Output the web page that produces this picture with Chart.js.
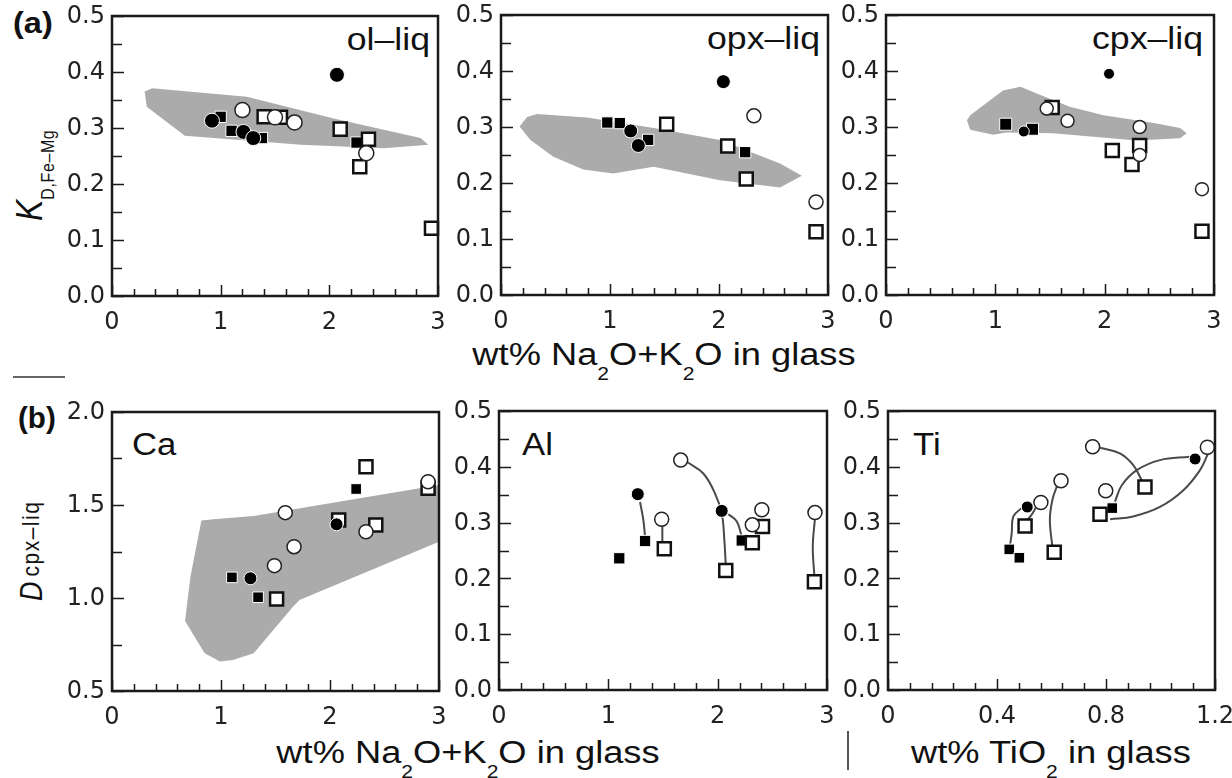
<!DOCTYPE html>
<html>
<head>
<meta charset="utf-8">
<script src="https://cdn.jsdelivr.net/npm/chart.js@4.4.1/dist/chart.umd.min.js"></script>
<style>
  html, body { margin: 0; padding: 0; background: #fff; }
  #page { position: relative; width: 1232px; height: 778px; overflow: hidden;
          font-family: "Liberation Sans", Arial, sans-serif; color: #111; }
  #page canvas { position: absolute; }
  .t { position: absolute; white-space: nowrap; line-height: 1; }
  .sub { font-size: 18px; position: relative; top: 15px; }
  .rot { transform-origin: 0 0; transform: rotate(-90deg) scaleY(1.17); }
</style>
</head>
<body>
<div id="page">
  <!-- panel letters -->
  <div class="t" style="left:13px;top:9px;font-size:29px;font-weight:bold;transform:scaleX(1.12);transform-origin:left">(a)</div>
  <div class="t" style="left:18px;top:404px;font-size:29px;font-weight:bold;transform:scaleX(1.02);transform-origin:left">(b)</div>
  <div style="position:absolute;left:13px;top:376px;width:52px;height:2px;background:#666"></div>
  <div style="position:absolute;left:847px;top:731px;width:2px;height:39px;background:#555"></div>

  <!-- y axis titles -->
  <div class="t rot" style="left:10px;top:221px;font-size:32px"><i>K</i><span style="font-size:16px;position:relative;top:11px;letter-spacing:0.6px">D,Fe–Mg</span></div>
  <div class="t rot" style="left:16px;top:601px;font-size:27px"><i>D</i><span style="font-size:21px;position:relative;top:-2px;margin-left:5px;letter-spacing:1.5px">cpx–liq</span></div>

  <!-- x axis titles -->
  <div class="t" style="left:364px;width:600px;top:339px;font-size:31px;text-align:center;transform:scaleX(1.17)">wt% Na<span class="sub">2</span>O+K<span class="sub">2</span>O in glass</div>
  <div class="t" style="left:168px;width:600px;top:737px;font-size:31px;text-align:center;transform:scaleX(1.17)">wt% Na<span class="sub">2</span>O+K<span class="sub">2</span>O in glass</div>
  <div class="t" style="left:751px;width:600px;top:737px;font-size:31px;text-align:center;transform:scaleX(1.17)">wt% TiO<span class="sub">2</span> in glass</div>

  <!-- panel names -->
  <div class="t" style="left:130px;width:300px;top:24px;font-size:31px;text-align:right;transform:scaleX(1.15);transform-origin:right">ol–liq</div>
  <div class="t" style="left:520px;width:300px;top:23px;font-size:31px;text-align:right;transform:scaleX(1.15);transform-origin:right">opx–liq</div>
  <div class="t" style="left:903px;width:300px;top:23px;font-size:31px;text-align:right;transform:scaleX(1.15);transform-origin:right">cpx–liq</div>
  <div class="t" style="left:132px;top:429px;font-size:31px;transform:scaleX(1.12);transform-origin:left">Ca</div>
  <div class="t" style="left:522px;top:429px;font-size:31px;transform:scaleX(1.12);transform-origin:left">Al</div>
  <div class="t" style="left:913px;top:429px;font-size:31px;transform:scaleX(1.12);transform-origin:left">Ti</div>
</div>

<script>
// ---- (a) ol–liq ----
const olFilledCircle = [[0.92, 0.313], [1.21, 0.293], [1.30, 0.282], [2.07, 0.395]];
const olOpenCircle   = [[1.20, 0.332], [1.50, 0.319], [1.68, 0.310], [2.34, 0.255]];
const olFilledSquare = [[1.00, 0.320], [1.10, 0.295], [1.38, 0.282], [2.25, 0.274]];
const olOpenSquare   = [[1.40, 0.320], [1.55, 0.319], [2.10, 0.298], [2.36, 0.280], [2.28, 0.231], [2.94, 0.121]];
const olField = [[0.30, 0.365], [0.37, 0.371], [1.24, 0.356], [2.04, 0.317], [2.84, 0.282], [2.91, 0.270],
                 [2.50, 0.264], [1.74, 0.270], [0.67, 0.286], [0.32, 0.338]];

// ---- (a) opx–liq ----
const opxFilledCircle = [[1.19, 0.293], [1.26, 0.267], [2.04, 0.381]];
const opxOpenCircle   = [[2.32, 0.320], [2.89, 0.166]];
const opxFilledSquare = [[0.975, 0.308], [1.09, 0.307], [1.35, 0.277], [2.24, 0.255]];
const opxOpenSquare   = [[1.52, 0.305], [2.08, 0.266], [2.25, 0.207], [2.89, 0.113]];
const opxField = [[0.17, 0.301], [0.24, 0.318], [0.33, 0.323], [0.79, 0.317], [1.40, 0.298], [2.01, 0.277],
                  [2.56, 0.235], [2.76, 0.213], [2.56, 0.192], [2.01, 0.205], [1.40, 0.229], [1.03, 0.217],
                  [0.755, 0.224], [0.48, 0.247], [0.27, 0.277]];

// ---- (a) cpx–liq ----
const cpxFilledCircle = [[1.26, 0.292], [2.04, 0.395]];
const cpxOpenCircle   = [[1.47, 0.333], [1.66, 0.311], [2.32, 0.300], [2.32, 0.250], [2.89, 0.189]];
const cpxFilledSquare = [[1.095, 0.305], [1.34, 0.296]];
const cpxOpenSquare   = [[1.52, 0.335], [2.07, 0.258], [2.32, 0.267], [2.25, 0.233], [2.89, 0.114]];
const cpxField = [[0.74, 0.312], [0.77, 0.321], [1.07, 0.365], [1.23, 0.372], [1.38, 0.360], [1.68, 0.336],
                  [1.99, 0.321], [2.45, 0.307], [2.69, 0.298], [2.75, 0.289], [2.69, 0.280], [2.29, 0.276],
                  [1.53, 0.289], [1.10, 0.290], [0.98, 0.286], [0.77, 0.295]];

// ---- (b) Ca ----
const caFilledCircle = [[1.27, 1.106], [2.06, 1.396]];
const caOpenCircle   = [[1.49, 1.174], [1.67, 1.276], [1.59, 1.459], [2.33, 1.356], [2.90, 1.625]];
const caFilledSquare = [[1.10, 1.111], [1.34, 1.004], [2.24, 1.586]];
const caOpenSquare   = [[1.51, 0.995], [2.08, 1.419], [2.33, 1.706], [2.42, 1.392], [2.90, 1.590]];
const caField = [[0.82, 1.416], [0.93, 1.423], [1.30, 1.441], [3.00, 1.607], [3.00, 1.303], [1.72, 0.989],
                 [1.66, 0.953], [1.30, 0.703], [1.11, 0.667], [0.99, 0.658], [0.85, 0.703], [0.67, 0.876],
                 [0.72, 1.116]];

// ---- (b) Al ----
const alFilledCircle = [[1.269, 0.351], [2.037, 0.321]];
const alOpenCircle   = [[1.488, 0.306], [1.662, 0.412], [2.317, 0.296], [2.404, 0.323], [2.89, 0.318]];
const alFilledSquare = [[1.10, 0.236], [1.336, 0.267], [2.22, 0.268]];
const alOpenSquare   = [[1.512, 0.253], [2.074, 0.214], [2.317, 0.264], [2.41, 0.293], [2.885, 0.194]];
const alTies = [
  [[1.29, 0.337], [1.32, 0.305], [1.336, 0.275]],
  [[1.494, 0.300], [1.494, 0.262]],
  [[1.717, 0.409], [1.869, 0.388], [1.976, 0.352], [2.037, 0.317], [2.061, 0.269], [2.074, 0.224]],
  [[2.098, 0.315], [2.175, 0.302], [2.22, 0.275]],
  [[2.89, 0.308], [2.87, 0.257], [2.885, 0.203]]
];

// ---- (b) Ti ----
const tiFilledCircle = [[0.511, 0.328], [1.127, 0.414]];
const tiOpenCircle   = [[0.561, 0.336], [0.635, 0.375], [0.751, 0.436], [0.799, 0.357], [1.172, 0.435]];
const tiFilledSquare = [[0.445, 0.252], [0.482, 0.237], [0.823, 0.326]];
const tiOpenSquare   = [[0.503, 0.294], [0.61, 0.247], [0.778, 0.315], [0.943, 0.364]];
const tiTies = [
  [[0.49, 0.326], [0.46, 0.311], [0.454, 0.281], [0.448, 0.260]],
  [[0.543, 0.327], [0.524, 0.312], [0.506, 0.302]],
  [[0.621, 0.367], [0.603, 0.340], [0.594, 0.305], [0.603, 0.257]],
  [[0.778, 0.434], [0.851, 0.424], [0.90, 0.403], [0.931, 0.376]],
  [[0.833, 0.3375], [0.858, 0.367], [0.913, 0.394], [0.998, 0.412], [1.108, 0.418]],
  [[1.175, 0.424], [1.145, 0.394], [1.084, 0.358], [0.998, 0.328], [0.90, 0.311], [0.815, 0.306]]
];

// axis ticks: [min, max, minor step, labelled step]
const naTicks  = [0, 3, 0.2, 1];
const tiTicks  = [0, 1.2, 0.08, 0.4];
const kdTicks  = [0, 0.5, 0.05, 0.1];
const caTicks  = [0.5, 2.0, 0.25, 0.5];

// plot-area boxes on the page
const BOX = {
  ol:  { left: 112, top: 16,  right: 438,  bottom: 296 },
  opx: { left: 501, top: 15,  right: 828,  bottom: 295 },
  cpx: { left: 886, top: 15,  right: 1214, bottom: 295 },
  ca:  { left: 112, top: 412, right: 439,  bottom: 691 },
  al:  { left: 499, top: 411, right: 827,  bottom: 690 },
  ti:  { left: 888, top: 411, right: 1215, bottom: 690 }
};
const PAD_L = 70, PAD_T = 16, PAD_R = 30, PAD_B = 44;
const SHADE = '#ababab';
const TICK_FONT = '"DejaVu Sans", Verdana, sans-serif';

const MARK = {
  filledSquare: { style: 'rect',   bg: '#000', border: '#fff', bw: 1,   order: 6 },
  openSquare:   { style: 'rect',   bg: '#fff', border: '#111', bw: 2.5, order: 5 },
  openCircle:   { style: 'circle', bg: '#fff', border: '#222', bw: 1.5, order: 4 },
  filledCircle: { style: 'circle', bg: '#000', border: '#fff', bw: 1,   order: 3 }
};

const pts = arr => arr.map(([x, y]) => ({ x, y }));
const isMajor = (v, m) => Math.abs(v / m - Math.round(v / m)) < 1e-6;

function marks(kind, arr, r) {
  const s = MARK[kind];
  return { data: pts(arr), pointStyle: s.style, backgroundColor: s.bg, borderColor: s.border,
           borderWidth: s.bw, pointRadius: r, pointHoverRadius: r, order: s.order, clip: false };
}
function field(arr) {
  return { type: 'line', data: pts(arr.concat([arr[0]])), fill: 'shape', backgroundColor: SHADE,
           borderWidth: 0, pointRadius: 0, tension: 0, order: 10 };
}
function tie(arr) {
  return { type: 'line', data: pts(arr), borderColor: '#4a4a4a', borderWidth: 2, pointRadius: 0,
           tension: 0.4, fill: false, order: 8, clip: false };
}

// labels are hidden in Chart.js and drawn by the frame plugin from each scale's own ticks
function axis(t, fmt, pos) {
  const [min, max, step, major] = t;
  return {
    type: 'linear', position: pos, min: min, max: max,
    grid: { display: false, drawTicks: false },
    border: { display: false },
    ticks: {
      display: false, stepSize: step, autoSkip: false,
      callback: v => isMajor(v, major) ? fmt(v) : ''
    },
    afterFit: s => { if (pos === 'left') s.width = PAD_L; else s.height = PAD_B; }
  };
}

// inward tick marks, tick labels and the box round each plot
const frame = {
  id: 'frame',
  afterDraw(chart) {
    const { ctx, chartArea: a, scales } = chart;
    const xs = scales.x, ys = scales.y;
    ctx.save();
    ctx.strokeStyle = '#1a1a1a';
    ctx.lineWidth = 1.5;
    ctx.beginPath();
    xs.ticks.forEach(t => {
      const px = Math.round(xs.getPixelForValue(t.value)) + 0.5;
      ctx.moveTo(px, a.bottom);
      ctx.lineTo(px, a.bottom - (t.label ? 11 : 7));
    });
    ys.ticks.forEach(t => {
      const py = Math.round(ys.getPixelForValue(t.value)) + 0.5;
      ctx.moveTo(a.left, py);
      ctx.lineTo(a.left + (t.label ? 12 : 10), py);
    });
    ctx.stroke();
    ctx.lineWidth = 2.5;
    ctx.strokeRect(a.left, a.top, a.right - a.left, a.bottom - a.top);

    ctx.fillStyle = '#222';
    ctx.font = '24px ' + TICK_FONT;
    ctx.textAlign = 'center';
    ctx.textBaseline = 'alphabetic';
    xs.ticks.forEach(t => {
      if (t.label) ctx.fillText(t.label, xs.getPixelForValue(t.value), a.bottom + 33);
    });
    ctx.textAlign = 'right';
    ctx.textBaseline = 'middle';
    ys.ticks.forEach(t => {
      if (t.label) ctx.fillText(t.label, a.left - 7, ys.getPixelForValue(t.value) + 1);
    });
    ctx.restore();
  }
};

const page = document.getElementById('page');

function panel(key, xt, xfmt, yt, yfmt, datasets) {
  const b = BOX[key];
  const w = b.right - b.left + PAD_L + PAD_R;
  const h = b.bottom - b.top + PAD_T + PAD_B;
  const c = document.createElement('canvas');
  c.width = w; c.height = h;
  c.style.left = (b.left - PAD_L) + 'px';
  c.style.top = (b.top - PAD_T) + 'px';
  c.style.width = w + 'px';
  c.style.height = h + 'px';
  page.appendChild(c);
  new Chart(c, {
    type: 'scatter',
    data: { datasets: datasets },
    options: {
      responsive: false,
      animation: false,
      events: [],
      layout: { padding: { left: 0, top: PAD_T, right: PAD_R, bottom: 0 } },
      plugins: { legend: { display: false }, tooltip: { enabled: false } },
      scales: { x: axis(xt, xfmt, 'bottom'), y: axis(yt, yfmt, 'left') }
    },
    plugins: [frame]
  });
}

const fmtInt = v => String(Math.round(v));
const fmtOne = v => v.toFixed(1);
const fmtTi = v => (Math.abs(v) < 1e-9 ? '0' : v.toFixed(1));

function set(fc, oc, fs, os, size) {
  return [
    marks('filledSquare', fs, size[2]),
    marks('openSquare', os, size[3]),
    marks('openCircle', oc, size[1]),
    marks('filledCircle', fc, size[0])
  ];
}

panel('ol', naTicks, fmtInt, kdTicks, fmtOne,
  [field(olField)].concat(set(olFilledCircle, olOpenCircle, olFilledSquare, olOpenSquare, [7.5, 7.5, 8, 9.2])));
panel('opx', naTicks, fmtInt, kdTicks, fmtOne,
  [field(opxField)].concat(set(opxFilledCircle, opxOpenCircle, opxFilledSquare, opxOpenSquare, [7, 7, 8, 9.2])));
panel('cpx', naTicks, fmtInt, kdTicks, fmtOne,
  [field(cpxField)].concat(set(cpxFilledCircle, cpxOpenCircle, cpxFilledSquare, cpxOpenSquare, [5.5, 6.5, 8.5, 9.2])));
panel('ca', naTicks, fmtInt, caTicks, fmtOne,
  [field(caField)].concat(set(caFilledCircle, caOpenCircle, caFilledSquare, caOpenSquare, [6.5, 7, 7.5, 9.2])));
panel('al', naTicks, fmtInt, kdTicks, fmtOne,
  alTies.map(tie).concat(set(alFilledCircle, alOpenCircle, alFilledSquare, alOpenSquare, [6.5, 7, 8, 9.2])));
panel('ti', tiTicks, fmtTi, kdTicks, fmtOne,
  tiTies.map(tie).concat(set(tiFilledCircle, tiOpenCircle, tiFilledSquare, tiOpenSquare, [6, 7, 7.5, 9.2])));
</script>
</body>
</html>
